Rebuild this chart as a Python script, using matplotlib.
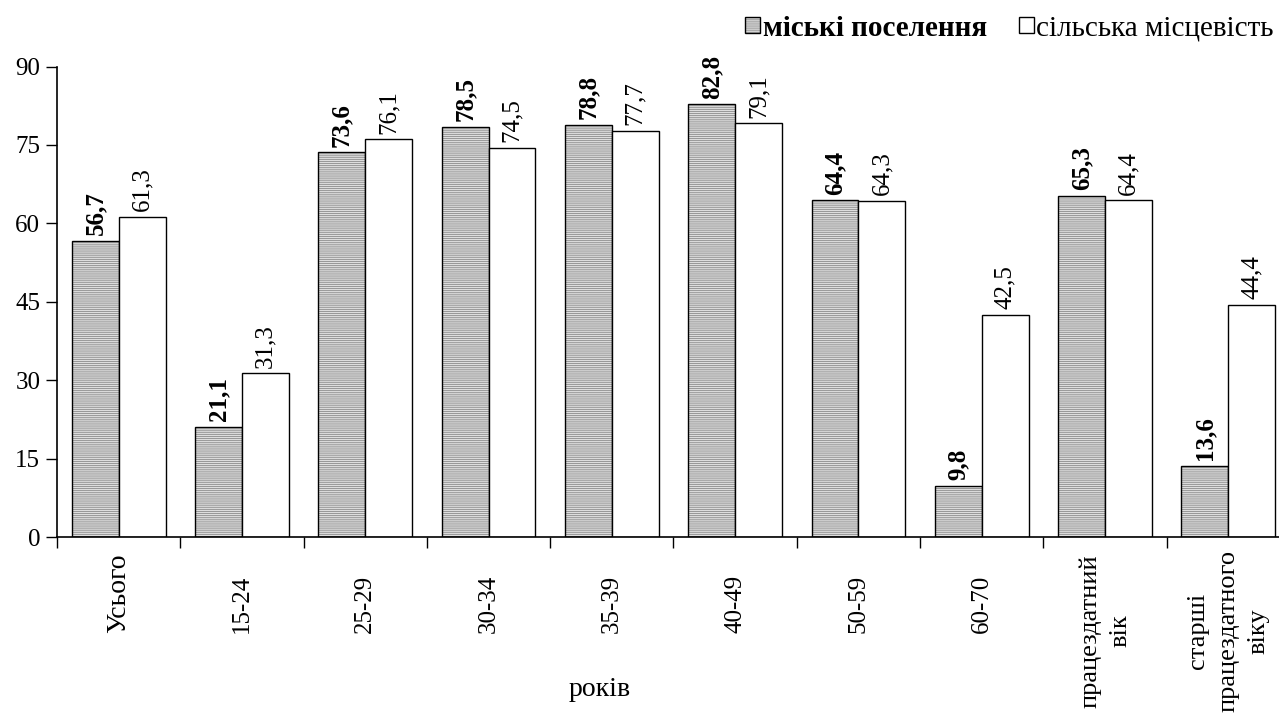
import numpy as np
import matplotlib.pyplot as plt
from matplotlib.patches import Patch
from matplotlib.transforms import blended_transform_factory

plt.rcParams['font.family'] = ['Liberation Serif', 'DejaVu Serif']
plt.rcParams['hatch.linewidth'] = 0.6

# ===== дані =====
categories = ['Усього', '15-24', '25-29', '30-34', '35-39', '40-49', '50-59', '60-70',
              'працездатний\nвік', 'старші\nпрацездатного\nвіку']
urban = [56.7, 21.1, 73.6, 78.5, 78.8, 82.8, 64.4, 9.8, 65.3, 13.6]
rural = [61.3, 31.3, 76.1, 74.5, 77.7, 79.1, 64.3, 42.5, 64.4, 44.4]
urban_label = 'міські поселення'
rural_label = 'сільська місцевість'

W, H = 1279, 713
fig = plt.figure(figsize=(W / 100, H / 100), dpi=100)
# права межа осі виходить за край рисунка, як в оригіналі
ax = fig.add_axes([57 / W, 176 / H, 1233 / W, 470.5 / H])

urban_face = '#dedede'
hatch_col = '#8c8c8c'
hatch = '--------'

x = np.arange(len(categories))
w = 0.38
# колір штрихування береться з edgecolor, тому малюємо двічі: штрих + контур
ax.bar(x - w / 2, urban, w, facecolor=urban_face, edgecolor=hatch_col, linewidth=0, hatch=hatch)
ax.bar(x - w / 2, urban, w, fill=False, edgecolor='black', linewidth=1.0)
ax.bar(x + w / 2, rural, w, facecolor='white', edgecolor='black', linewidth=1.0)

def fmt(v):
    return f"{v:.1f}".replace('.', ',')

for xi, v in zip(x, urban):
    ax.annotate(fmt(v), (xi - w / 2, v), xytext=(0, 4), textcoords='offset points',
                rotation=90, ha='center', va='bottom', fontsize=18, fontweight='bold')
for xi, v in zip(x, rural):
    ax.annotate(fmt(v), (xi + w / 2, v), xytext=(0, 4), textcoords='offset points',
                rotation=90, ha='center', va='bottom', fontsize=18)

ax.set_xlim(-0.5, len(categories) - 0.5)
ax.set_ylim(0, 90)
ax.set_yticks(range(0, 91, 15))
ax.tick_params(axis='y', labelsize=18, direction='out', length=8, width=1, pad=4)

# мітки на межах категорій
ax.set_xticks(np.arange(len(categories) + 1) - 0.5)
ax.set_xticklabels([])
ax.tick_params(axis='x', which='major', direction='out', length=8, width=1)

# підписи категорій (повернуті)
tr = blended_transform_factory(ax.transData, fig.transFigure)
for xi, lab in zip(x, categories):
    if '\n' in lab:
        ax.text(xi, 1 - 631 / H, lab, transform=tr, rotation=90, fontsize=19,
                ha='center', va='center', multialignment='center', linespacing=1.5)
    else:
        fs = 18 if lab[0].isdigit() else 20
        ax.text(xi, 1 - 633 / H, lab, transform=tr, rotation=90, fontsize=fs,
                ha='center', va='bottom')

for s in ['top', 'right']:
    ax.spines[s].set_visible(False)
for s in ['left', 'bottom']:
    ax.spines[s].set_linewidth(1.2)

fig.text(600 / W, 1 - 690 / H, 'років', fontsize=20, ha='center', va='center')

urban_handle = (Patch(facecolor=urban_face, edgecolor=hatch_col, linewidth=0, hatch=hatch),
                Patch(fill=False, edgecolor='black'))
rural_handle = Patch(facecolor='white', edgecolor='black')
leg = fig.legend([urban_handle, rural_handle], [urban_label, rural_label],
                 loc='center right', bbox_to_anchor=(1274 / W, 1 - 28 / H),
                 ncol=2, frameon=False, fontsize=21, handlelength=0.5, handleheight=0.5,
                 handletextpad=0.1, columnspacing=1.1, borderaxespad=0, borderpad=0)
leg.get_texts()[0].set_fontweight('bold')

plt.savefig('out.png', dpi=100)
